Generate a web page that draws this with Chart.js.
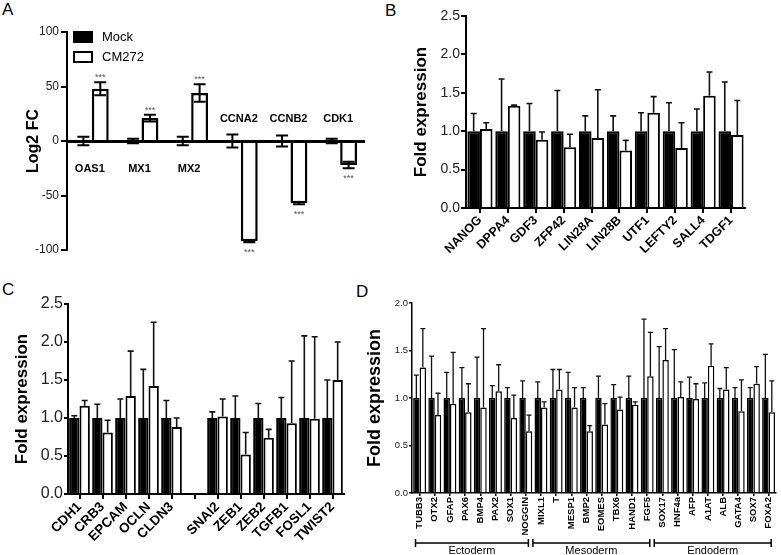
<!DOCTYPE html>
<html>
<head>
<meta charset="utf-8">
<script src="https://cdn.jsdelivr.net/npm/chart.js@4.4.1/dist/chart.umd.min.js"></script>
<style>
html,body{margin:0;padding:0;background:#fff;}
body{width:781px;height:555px;position:relative;overflow:hidden;font-family:'Liberation Sans',Arial,Helvetica,sans-serif;}
canvas{position:absolute;display:block;}
.lt{position:absolute;font-size:17px;line-height:1;color:#000;}
</style>
</head>
<body>
<div class="lt" style="left:2px;top:1px">A</div>
<div class="lt" style="left:385px;top:2px">B</div>
<div class="lt" style="left:2px;top:281px">C</div>
<div class="lt" style="left:356px;top:283px">D</div>
<canvas id="cA" width="390" height="280" style="left:0;top:0"></canvas>
<canvas id="cB" width="391" height="280" style="left:390px;top:0"></canvas>
<canvas id="cC" width="345" height="275" style="left:0;top:280px"></canvas>
<canvas id="cD" width="436" height="275" style="left:345px;top:280px"></canvas>
<script>
// ---------------- DATA ----------------
// Panel A
const seriesNames = ['Mock', 'CM272'];
const genesA = ['OAS1', 'MX1', 'MX2', 'CCNA2', 'CCNB2', 'CDK1'];
const mockA = [0, 0, 0, 0, 0, 0];
const mockErrA = [4, 2, 4, 6, 5, 2];
const cmA = [48, 21, 44, -92, -57, -22];
const cmErrA = [6, 3, 8, 0.8, 1, 3];
const starsA = ['***', '***', '***', '***', '***', '***'];
const ticksA = [-100, -50, 0, 50, 100];

// Panel B
const genesB = ['NANOG', 'DPPA4', 'GDF3', 'ZFP42', 'LIN28A', 'LIN28B', 'UTF1', 'LEFTY2', 'SALL4', 'TDGF1'];
const mockB = [1, 1, 1, 1, 1, 1, 1, 1, 1, 1];
const mockErrB = [0.23, 0.68, 0.36, 0.53, 0.20, 0.20, 0.24, 0.37, 0.29, 0.64];
const cmB = [1.03, 1.33, 0.89, 0.79, 0.91, 0.75, 1.24, 0.78, 1.46, 0.95];
const cmErrB = [0.08, 0.01, 0.10, 0.17, 0.63, 0.13, 0.21, 0.33, 0.31, 0.45];

// Panel C
const genesC = ['CDH1', 'CRB3', 'EPCAM', 'OCLN', 'CLDN3', '', 'SNAI2', 'ZEB1', 'ZEB2', 'TGFB1', 'FOSL1', 'TWIST2'];
const mockC = [1, 1, 1, 1, 1, null, 1, 1, 1, 1, 1, 1];
const mockErrC = [0.03, 0.18, 0.25, 0.64, 0.23, null, 0.08, 0.29, 0.19, 0.27, 1.08, 0.50];
const cmC = [1.16, 0.81, 1.29, 1.42, 0.88, null, 1.02, 0.52, 0.74, 0.93, 0.99, 1.50];
const cmErrC = [0.07, 0.16, 0.59, 0.84, 0.12, null, 0.23, 0.29, 0.11, 0.82, 1.08, 0.50];

// Panel D
const genesD = ['TUBB3', 'OTX2', 'GFAP', 'PAX6', 'BMP4', 'PAX2', 'SOX1', 'NOGGIN',
                'MIXL1', 'T', 'MESP1', 'BMP2', 'EOMES', 'TBX6', 'HAND1', 'FGF5',
                'SOX17', 'HNF4a', 'AFP', 'A1AT', 'ALB', 'GATA4', 'SOX7', 'FOXA2'];
const mockD = [1, 1, 1, 1, 1, 1, 1, 1, 1, 1, 1, 1, 1, 1, 1, 1, 1, 1, 1, 1, 1, 1, 1, 1];
const mockErrD = [0.24, 0.44, 0.27, 0.32, 0.43, 0.13, 0.11, 0.18,
                  0.17, 0.30, 0.27, 0.11, 0.23, 0.14, 0.23, 0.83,
                  0.54, 0.51, 0.22, 0.16, 0.10, 0.11, 0.11, 0.46];
const cmD = [1.32, 0.82, 0.94, 0.85, 0.90, 1.07, 0.79, 0.65,
             0.90, 1.09, 0.90, 0.65, 0.72, 0.88, 0.93, 1.23,
             1.40, 1.01, 0.99, 1.34, 1.09, 0.86, 1.15, 0.85];
const cmErrD = [0.41, 0.23, 0.54, 0.30, 0.83, 0.28, 0.24, 0.17,
                0.06, 0.21, 0.21, 0.06, 0.22, 0.13, 0.03, 0.46,
                0.33, 0.16, 0.16, 0.23, 0.23, 0.33, 0.18, 0.33];
const layerNames = ['Ectoderm', 'Mesoderm', 'Endoderm'];
const layerFirst = [0, 8, 16];
const layerLast = [7, 15, 23];

// ---------------- PLUGINS ----------------
const FONT = "'Liberation Sans', Arial, Helvetica, sans-serif";
Chart.defaults.font.family = FONT;
Chart.defaults.color = '#000';

const errorBars = {
  id: 'errorBars',
  afterDatasetsDraw(chart, args, opts) {
    const ctx = chart.ctx, y = chart.scales.y;
    chart.data.datasets.forEach((ds, i) => {
      if (!ds.errors) return;
      const meta = chart.getDatasetMeta(i);
      ctx.save();
      ctx.strokeStyle = opts.color || '#000';
      ctx.lineWidth = opts.width || 1.5;
      meta.data.forEach((el, j) => {
        const v = ds.data[j], e = ds.errors[j];
        if (v == null || e == null) return;
        const x = el.x;
        const yHi = y.getPixelForValue(v + e);
        const yLo = y.getPixelForValue(opts.both ? v - e : v);
        ctx.beginPath();
        ctx.moveTo(x, yLo); ctx.lineTo(x, yHi);
        ctx.moveTo(x - opts.cap, yHi); ctx.lineTo(x + opts.cap, yHi);
        if (opts.both) { ctx.moveTo(x - opts.cap, yLo); ctx.lineTo(x + opts.cap, yLo); }
        ctx.stroke();
      });
      ctx.restore();
    });
  }
};

const panelAExtras = {
  id: 'panelAExtras',
  afterDraw(chart) {
    const ctx = chart.ctx, x = chart.scales.x, y = chart.scales.y;
    const a = chart.chartArea;
    const y0 = Math.round(y.getPixelForValue(0));
    const cm = chart.data.datasets[1];
    const cmMeta = chart.getDatasetMeta(1);
    ctx.save();
    // zero line (x axis crossing at 0)
    ctx.fillStyle = '#000';
    ctx.fillRect(Math.round(a.left), y0 - 1, Math.round(a.right - a.left), 3);
    // category labels
    ctx.font = 'bold 11px ' + FONT;
    ctx.textAlign = 'center';
    ctx.textBaseline = 'middle';
    chart.data.labels.forEach((lab, i) => {
      const cx = x.getPixelForValue(i) - 2;
      const ly = cm.data[i] >= 0 ? y0 + 28 : y0 - 22;
      ctx.fillText(lab, cx, ly);
    });
    // significance stars
    ctx.font = '9px ' + FONT;
    ctx.fillStyle = '#555';
    ctx.textBaseline = 'alphabetic';
    cmMeta.data.forEach((el, i) => {
      const v = cm.data[i], e = cm.errors[i];
      const py = v >= 0 ? y.getPixelForValue(v + e) - 2 : y.getPixelForValue(v - e) + 13;
      ctx.fillText(starsA[i], el.x, py);
    });
    // legend
    const ds = chart.data.datasets;
    const lx = 73, ly = [31, 51];
    ctx.textAlign = 'left';
    ctx.textBaseline = 'middle';
    ctx.font = '13px ' + FONT;
    ds.forEach((d, i) => {
      ctx.fillStyle = d.backgroundColor;
      ctx.fillRect(lx, ly[i], 20, 12);
      ctx.lineWidth = 2;
      ctx.strokeStyle = '#000';
      ctx.strokeRect(lx + 1, ly[i] + 1, 18, 10);
      ctx.fillStyle = '#000';
      ctx.fillText(d.label, lx + 29, ly[i] + 6.5);
    });
    ctx.restore();
  }
};

const groupBrackets = {
  id: 'groupBrackets',
  afterDraw(chart, args, opts) {
    if (!opts.names) return;
    const ctx = chart.ctx, x = chart.scales.x;
    const half = (x.getPixelForValue(1) - x.getPixelForValue(0)) / 2;
    const by = chart.chartArea.bottom + 50;
    ctx.save();
    ctx.strokeStyle = '#000';
    ctx.lineWidth = 1.5;
    ctx.fillStyle = '#000';
    ctx.font = '11px ' + FONT;
    ctx.textAlign = 'center';
    ctx.textBaseline = 'middle';
    opts.names.forEach((n, i) => {
      let x0 = x.getPixelForValue(opts.first[i]) - half - 0.5;
      x0 = Math.max(x0, chart.chartArea.left + 3.5);
      const x1 = x.getPixelForValue(opts.last[i]) + half - 5;
      ctx.beginPath();
      ctx.moveTo(x0, by); ctx.lineTo(x1, by);
      ctx.moveTo(x0, by - 4); ctx.lineTo(x0, by + 4);
      ctx.moveTo(x1, by - 4); ctx.lineTo(x1, by + 4);
      ctx.stroke();
      ctx.fillText(n, (x0 + x1) / 2, by + 7.5);
    });
    ctx.restore();
  }
};

// ---------------- BUILDERS ----------------
function barDatasets(mock, mockErr, cm, cmErr, bw) {
  return [
    { label: seriesNames[0], data: mock, errors: mockErr, backgroundColor: '#000', borderColor: '#000', borderWidth: bw, borderSkipped: 'start' },
    { label: seriesNames[1], data: cm, errors: cmErr, backgroundColor: '#fff', borderColor: '#000', borderWidth: bw, borderSkipped: 'start' }
  ];
}

function xAxis(c) {
  return {
    type: 'category',
    offset: true,
    grid: { display: true, drawOnChartArea: false, drawTicks: true, tickLength: c.tickLen, offset: false, color: '#000', lineWidth: c.lw, tickWidth: c.lw },
    border: { display: true, color: '#000', width: c.lw },
    ticks: { autoSkip: false, maxRotation: c.rot, minRotation: c.rot, padding: c.pad, font: { size: c.size, weight: 'bold' }, color: '#000' },
    afterFit(s) { s.height = c.height; }
  };
}

function yAxis(c) {
  return {
    min: c.min, max: c.max,
    afterBuildTicks(s) { if (c.ticks) s.ticks = c.ticks.map(v => ({ value: v })); },
    ticks: { stepSize: c.step, padding: c.pad, font: { size: c.size }, color: '#222', callback: c.fmt },
    grid: { drawOnChartArea: false, drawTicks: true, tickLength: c.tickLen, color: '#000', lineWidth: c.lw, tickWidth: c.lw },
    border: { display: true, color: '#000', width: c.lw },
    title: { display: true, text: c.title, font: { size: c.tsize, weight: 'bold' }, color: '#000', padding: { top: c.tx - c.tsize * 0.6, bottom: 0 } },
    afterFit(s) { s.width = c.width; }
  };
}

function baseOptions(pad, err, extra) {
  return {
    responsive: false, animation: false, devicePixelRatio: 1,
    layout: { padding: pad },
    plugins: Object.assign({ legend: { display: false }, tooltip: { enabled: false }, title: { display: false }, errorBars: err }, extra || {})
  };
}

// ---------------- PANEL A ----------------
(function () {
  const opts = baseOptions({ top: 32, bottom: 30, left: 0, right: 25 }, { cap: 6, width: 2, both: true, color: '#000' });
  const dsA = barDatasets(mockA, mockErrA, cmA, cmErrA, 2.5);
  dsA.forEach(d => { d.categoryPercentage = 0.68; d.barPercentage = 1.0; });
  opts.scales = {
    x: { type: 'category', offset: true, display: false },
    y: yAxis({
      min: -100, max: 100, ticks: ticksA, pad: 2, size: 12, tickLen: 6, lw: 2,
      fmt: v => String(v), title: 'Log2 FC', tsize: 16, tx: 34, width: 67
    })
  };
  new Chart(document.getElementById('cA'), {
    type: 'bar',
    data: { labels: genesA, datasets: dsA },
    options: opts,
    plugins: [errorBars, panelAExtras]
  });
})();

// ---------------- PANEL B ----------------
(function () {
  const opts = baseOptions({ top: 16, bottom: 0, left: 0, right: 36 }, { cap: 3, width: 1.6, both: false, color: '#111' });
  const ds = barDatasets(mockB, mockErrB, cmB, cmErrB, 2);
  ds.forEach(d => { d.categoryPercentage = 0.9; d.barPercentage = 1.0; });
  opts.scales = {
    x: xAxis({ tickLen: 5, lw: 2, rot: 45, pad: 0, size: 12.5, height: 72 }),
    y: yAxis({ min: 0, max: 2.5, step: 0.5, pad: 1, size: 14, tickLen: 5, lw: 2, fmt: v => v.toFixed(1),
               title: 'Fold expression', tsize: 17, tx: 31.5, width: 76 })
  };
  new Chart(document.getElementById('cB'), {
    type: 'bar', data: { labels: genesB, datasets: ds }, options: opts, plugins: [errorBars]
  });
})();

// ---------------- PANEL C ----------------
(function () {
  const opts = baseOptions({ top: 24, bottom: 0, left: 0, right: 1 }, { cap: 3, width: 1.6, both: false, color: '#111' });
  const ds = barDatasets(mockC, mockErrC, cmC, cmErrC, 2);
  ds.forEach(d => { d.categoryPercentage = 0.9; d.barPercentage = 1.0; });
  opts.scales = {
    x: xAxis({ tickLen: 5, lw: 2, rot: 45, pad: 0, size: 13.5, height: 61 }),
    y: yAxis({ min: 0, max: 2.5, step: 0.5, pad: 1, size: 16, tickLen: 4, lw: 2, fmt: v => v.toFixed(1),
               title: 'Fold expression', tsize: 17, tx: 22.5, width: 68 })
  };
  new Chart(document.getElementById('cC'), {
    type: 'bar', data: { labels: genesC, datasets: ds }, options: opts, plugins: [errorBars]
  });
})();

// ---------------- PANEL D ----------------
(function () {
  const opts = baseOptions({ top: 23, bottom: 0, left: 0, right: 1 }, { cap: 2.5, width: 1.3, both: false, color: '#111' },
    { groupBrackets: { names: layerNames, first: layerFirst, last: layerLast } });
  const ds = barDatasets(mockD, mockErrD, cmD, cmErrD, 1.5);
  ds.forEach(d => { d.categoryPercentage = 0.85; d.barPercentage = 1.0; });
  opts.scales = {
    x: xAxis({ tickLen: 3, lw: 1.5, rot: 90, pad: 1, size: 9.5, height: 62 }),
    y: yAxis({ min: 0, max: 2, step: 0.5, pad: 1, size: 9.5, tickLen: 3, lw: 1.5, fmt: v => v.toFixed(1),
               title: 'Fold expression', tsize: 18, tx: 30, width: 67 })
  };
  new Chart(document.getElementById('cD'), {
    type: 'bar', data: { labels: genesD, datasets: ds }, options: opts, plugins: [errorBars, groupBrackets]
  });
})();
</script>
</body>
</html>
